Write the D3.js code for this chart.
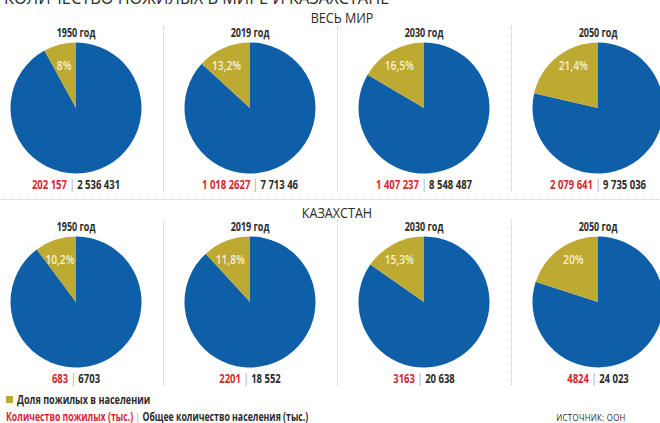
<!DOCTYPE html>
<html>
<head>
<meta charset="utf-8">
<script src="https://cdn.jsdelivr.net/npm/d3@7"></script>
<style>
  body { margin: 0; background: #fff; }
  svg { display: block; font-family: "Open Sans", sans-serif; }
</style>
</head>
<body>
<div id="chart"></div>
<script>
const years = ["1950 год", "2019 год", "2030 год", "2050 год"]
const worldShare = [8, 13.2, 16.5, 21.4]
const worldShareLabels = ["8%", "13,2%", "16,5%", "21,4%"]
const worldElderly = ["202 157", "1 018 2627", "1 407 237", "2 079 641"]
const worldTotal = ["2 536 431", "7 713 46", "8 548 487", "9 735 036"]
const kzShare = [10.2, 11.8, 15.3, 20]
const kzShareLabels = ["10,2%", "11,8%", "15,3%", "20%"]
const kzElderly = ["683", "2201", "3163", "4824"]
const kzTotal = ["6703", "18 552", "20 638", "24 023"]

const width = 660
const height = 423
const r = 65.5
const blue = "#0e5fa8"
const gold = "#bea932"
const red = "#d8262e"
const dark = "#2b2b2b"

const svg = d3.select('#chart')
  .append('svg')
  .attr('width', width)
  .attr('height', height)

const x = d3.scaleBand()
  .domain(years)
  .range([-11, 685])

const pie = d3.pie().sort(null).value(d => d)
const arc = d3.arc().innerRadius(0).outerRadius(r)

// condensed look: squeeze text horizontally
function ctext(parent, px, py, sx) {
  return parent.append("text")
    .attr("transform", 'translate(' + px + ',' + py + ') scale(' + sx + ',1)')
}

// title, cut off at the top edge
ctext(svg, 4, 4, 0.86)
  .style("font-size", "19px")
  .attr("fill", dark)
  .text("КОЛИЧЕСТВО ПОЖИЛЫХ В МИРЕ И КАЗАХСТАНЕ")

function drawRow(opts) {
  const g = svg.append('g')

  ctext(g, opts.titleX, opts.titleY, 0.9)
    .attr("text-anchor", "middle")
    .style("font-size", "14px")
    .attr("fill", dark)
    .text(opts.title)

  // dotted dividers between columns
  g.selectAll('line.div')
    .data(years.slice(1))
    .enter()
    .append('line')
    .attr('x1', d => Math.round(x(d)) + 0.5)
    .attr('x2', d => Math.round(x(d)) + 0.5)
    .attr('y1', opts.cy - 82)
    .attr('y2', opts.cy + 84)
    .attr('stroke', '#c8c8c8')
    .attr('stroke-dasharray', '1,1')

  years.forEach((yr, i) => {
    const cx = x(yr) + x.bandwidth() / 2
    const col = g.append('g')

    ctext(col, cx, opts.cy - 71, 0.75)
      .attr("text-anchor", "middle")
      .style("font-size", "12px")
      .style("font-weight", "bold")
      .attr("fill", dark)
      .text(yr)

    const share = opts.share[i]
    const slices = pie([100 - share, share])
    col.append('g')
      .attr('transform', 'translate(' + cx + ',' + opts.cy + ')')
      .selectAll('path')
      .data(slices)
      .enter()
      .append('path')
      .attr('d', arc)
      .attr('fill', (d, j) => j === 0 ? blue : gold)

    // label in the upper part of the gold slice
    const h = 43
    const a = share / 100 * 2 * Math.PI
    const half = Math.sqrt(r * r - h * h)
    const w = Math.min(h * Math.tan(Math.min(a, 1.5)), half)
    ctext(col, cx - w / 2, opts.cy - h + 5, 0.85)
      .attr("text-anchor", "middle")
      .style("font-size", "12px")
      .style("font-weight", 600)
      .attr("fill", "#f6f0d2")
      .text(opts.labels[i])

    const t = ctext(col, cx, opts.cy + 81, 0.76)
      .attr("text-anchor", "middle")
      .style("font-size", "12.5px")
      .style("font-weight", "bold")
    t.append("tspan").attr("fill", red).text(opts.elderly[i] + " ")
    t.append("tspan").attr("fill", "#999").style("font-weight", "normal").text("|")
    t.append("tspan").attr("fill", dark).text(" " + opts.total[i])
  })
}

drawRow({
  title: "ВЕСЬ МИР", titleX: 342, titleY: 23, cy: 108,
  share: worldShare, labels: worldShareLabels, elderly: worldElderly, total: worldTotal
})

svg.append('line')
  .attr('x1', 0).attr('x2', width)
  .attr('y1', 199.5).attr('y2', 199.5)
  .attr('stroke', '#c8c8c8')
  .attr('stroke-dasharray', '1,1')

drawRow({
  title: "КАЗАХСТАН", titleX: 337, titleY: 218, cy: 302,
  share: kzShare, labels: kzShareLabels, elderly: kzElderly, total: kzTotal
})

// legend
svg.append("rect")
  .attr("x", 6).attr("y", 396)
  .attr("width", 7).attr("height", 7)
  .attr("fill", gold)

ctext(svg, 17, 404, 0.79)
  .style("font-size", "11.5px")
  .style("font-weight", "bold")
  .attr("fill", dark)
  .text("Доля пожилых в населении")

const leg = ctext(svg, 6, 421, 0.76)
  .style("font-size", "11.5px")
  .style("font-weight", "bold")
leg.append("tspan").attr("fill", red).text("Количество пожилых (тыс.) ")
leg.append("tspan").attr("fill", "#999").style("font-weight", "normal").text("|")
leg.append("tspan").attr("fill", dark).text(" Общее количество населения (тыс.)")

ctext(svg, 591, 421, 0.88)
  .attr("text-anchor", "middle")
  .style("font-size", "9px")
  .style("letter-spacing", "0.3px")
  .attr("fill", dark)
  .text("ИСТОЧНИК: ООН")
</script>
</body>
</html>
